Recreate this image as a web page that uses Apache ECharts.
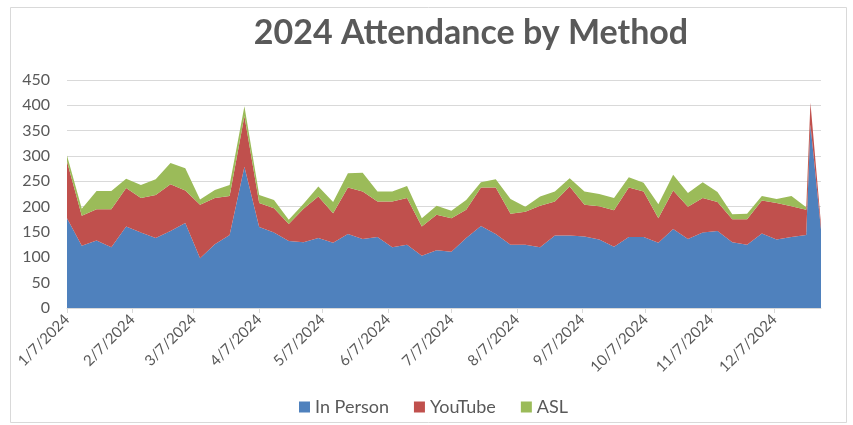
<!DOCTYPE html>
<html>
<head>
<meta charset="utf-8">
<script src="https://cdn.jsdelivr.net/npm/echarts@6/dist/echarts.min.js"></script>
<style>
html,body{margin:0;padding:0;background:#fff;}
#chart{width:853px;height:425px;}
</style>
</head>
<body>
<div id="chart"></div>
<script>
// ---- Data ----
const dates = [
  '2024-01-07','2024-01-14','2024-01-21','2024-01-28',
  '2024-02-04','2024-02-11','2024-02-18','2024-02-25',
  '2024-03-03','2024-03-10','2024-03-17','2024-03-24','2024-03-31',
  '2024-04-07','2024-04-14','2024-04-21','2024-04-28',
  '2024-05-05','2024-05-12','2024-05-19','2024-05-26',
  '2024-06-02','2024-06-09','2024-06-16','2024-06-23','2024-06-30',
  '2024-07-07','2024-07-14','2024-07-21','2024-07-28',
  '2024-08-04','2024-08-11','2024-08-18','2024-08-25',
  '2024-09-01','2024-09-08','2024-09-15','2024-09-22','2024-09-29',
  '2024-10-06','2024-10-13','2024-10-20','2024-10-27',
  '2024-11-03','2024-11-10','2024-11-17','2024-11-24',
  '2024-12-01','2024-12-08','2024-12-15','2024-12-22','2024-12-24','2024-12-29'
];
const inPerson = [
  177,123,133,120, 161,149,138,152, 168,98,126,144,279,
  160,149,132,130, 138,129,146,136, 140,120,125,103,114,
  111,138,162,146, 125,125,120,143, 143,141,135,121,140,
  140,129,156,136, 149,152,130,125, 147,135,140,144,362,155
];
const youTube = [
  112,59,62,75, 76,68,85,92, 64,106,91,77,100,
  47,48,34,66, 82,58,92,94, 70,90,92,58,70,
  66,56,76,92, 61,65,82,67, 97,63,66,72,98,
  90,48,76,64, 68,57,45,50, 65,72,61,50,43,10
];
const asl = [
  12,14,36,36, 18,26,31,42, 44,10,16,22,19,
  16,16,8,10, 20,22,28,37, 20,20,24,16,18,
  15,19,10,16, 29,10,18,20, 16,26,24,24,20,
  17,28,31,27, 31,20,10,11, 9,8,20,5,0,0
];
const tickDates = [
  '2024-01-07','2024-02-07','2024-03-07','2024-04-07','2024-05-07','2024-06-07',
  '2024-07-07','2024-08-07','2024-09-07','2024-10-07','2024-11-07','2024-12-07'
];
const seriesNames = ['In Person','YouTube','ASL'];
const seriesColors = ['#4F81BD','#C0504D','#9BBB59'];
const titleText = '2024 Attendance by Method';

// ---- Helpers ----
function ts(s){ const p = s.split('-').map(Number); return new Date(p[0], p[1]-1, p[2]).getTime(); }
function fmt(v){ const d = new Date(v); return (d.getMonth()+1) + '/' + d.getDate() + '/' + d.getFullYear(); }

const xs = dates.map(ts);
const ticks = tickDates.map(ts);
const values = [inPerson, youTube, asl];

const chart = echarts.init(document.getElementById('chart'), null, {renderer:'canvas'});
const FONT = 'Lato, "Open Sans", sans-serif';
chart.setOption({
  animation: false,
  backgroundColor: '#ffffff',
  graphic: [
    { type:'rect', shape:{x:10.5, y:7.5, width:836, height:415}, style:{fill:'none', stroke:'#d9d9d9', lineWidth:1}, z:-10 },
    { type:'text', x:471, y:33, style:{ text:titleText, fill:'#595959', font:'bold 34px ' + FONT, textAlign:'center', textVerticalAlign:'middle' } }
  ],
  legend: {
    data: seriesNames,
    left: 294, top: 393,
    icon: 'rect', itemWidth: 11, itemHeight: 11, itemGap: 25,
    textStyle: { color:'#595959', fontSize:18, fontFamily:FONT }
  },
  grid: { left: 67, right: 32, top: 80, bottom: 117, containLabel: false },
  xAxis: {
    type: 'value',
    min: xs[0], max: xs[xs.length-1],
    splitLine: { show:false },
    axisLine: { show:true, lineStyle:{ color:'#d9d9d9', width:1 } },
    axisTick: { show:true, length:5, lineStyle:{ color:'#d9d9d9' }, customValues: ticks },
    axisLabel: {
      customValues: ticks, rotate: 45, margin: 9, hideOverlap: false,
      color:'#595959', fontSize:15, fontFamily:FONT,
      formatter: fmt
    }
  },
  yAxis: {
    type: 'value', min: 0, max: 450, interval: 50,
    axisLine: { show:false }, axisTick: { show:false },
    splitLine: { lineStyle:{ color:'#d9d9d9', width:1 } },
    axisLabel: { color:'#595959', fontSize:16, fontFamily:FONT, margin:17 }
  },
  series: seriesNames.map((name, k) => ({
    name, type:'line', stack:'total', showSymbol:false, symbol:'none',
    color: seriesColors[k],
    lineStyle: { width:0, color: seriesColors[k] },
    areaStyle: { color: seriesColors[k], opacity:1 },
    dimensions: ['count', 'date'],
    encode: { x: 'date', y: 'count' },
    data: xs.map((x, i) => [values[k][i], x])
  }))
});
</script>
</body>
</html>
